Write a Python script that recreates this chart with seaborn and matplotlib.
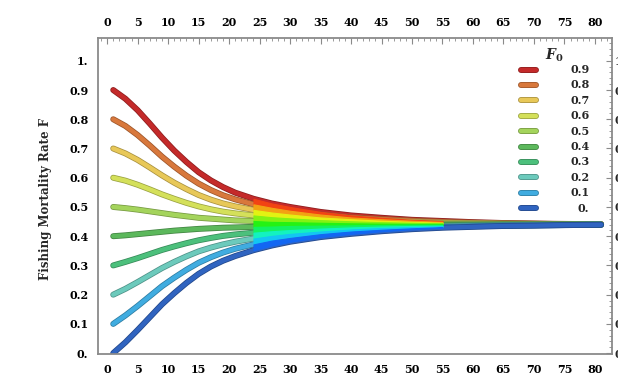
import colorsys

import matplotlib
matplotlib.use("Agg")
import matplotlib.pyplot as plt
import numpy as np
import pandas as pd
import seaborn as sns
from matplotlib import patheffects as pe
from matplotlib.ticker import MultipleLocator

# time axis (years) at which the trajectories are sampled
t = [1, 3, 5, 7, 9, 11, 13, 15, 17, 19, 21, 24, 27, 30, 35, 40, 45, 50, 55, 60, 65, 70, 75, 81]

# fishing mortality trajectories for each starting value F0
f_09 = [0.900, 0.870, 0.831, 0.785, 0.737, 0.693, 0.654, 0.619, 0.591, 0.568, 0.549, 0.528,
        0.512, 0.500, 0.483, 0.471, 0.463, 0.456, 0.452, 0.448, 0.445, 0.443, 0.442, 0.441]
f_08 = [0.800, 0.777, 0.746, 0.710, 0.672, 0.638, 0.607, 0.580, 0.558, 0.540, 0.526, 0.509,
        0.497, 0.487, 0.474, 0.464, 0.458, 0.453, 0.449, 0.446, 0.444, 0.443, 0.441, 0.441]
f_07 = [0.700, 0.683, 0.661, 0.635, 0.608, 0.583, 0.561, 0.541, 0.525, 0.512, 0.502, 0.490,
        0.481, 0.474, 0.464, 0.458, 0.453, 0.449, 0.446, 0.444, 0.443, 0.442, 0.441, 0.440]
f_06 = [0.600, 0.590, 0.576, 0.560, 0.543, 0.528, 0.514, 0.502, 0.492, 0.484, 0.478, 0.471,
        0.465, 0.461, 0.455, 0.451, 0.448, 0.446, 0.444, 0.443, 0.442, 0.441, 0.441, 0.440]
f_05 = [0.500, 0.496, 0.491, 0.485, 0.479, 0.473, 0.468, 0.463, 0.460, 0.457, 0.454, 0.452,
        0.449, 0.448, 0.446, 0.444, 0.443, 0.442, 0.442, 0.441, 0.441, 0.440, 0.440, 0.440]
f_04 = [0.400, 0.403, 0.407, 0.411, 0.415, 0.419, 0.422, 0.425, 0.427, 0.429, 0.430, 0.432,
        0.433, 0.435, 0.436, 0.437, 0.438, 0.439, 0.439, 0.439, 0.440, 0.440, 0.440, 0.440]
f_03 = [0.300, 0.312, 0.325, 0.339, 0.353, 0.365, 0.376, 0.386, 0.394, 0.401, 0.406, 0.412,
        0.417, 0.421, 0.426, 0.430, 0.433, 0.435, 0.436, 0.437, 0.438, 0.439, 0.439, 0.440]
f_02 = [0.200, 0.220, 0.243, 0.267, 0.291, 0.312, 0.331, 0.348, 0.361, 0.372, 0.381, 0.392,
        0.401, 0.408, 0.416, 0.423, 0.428, 0.431, 0.434, 0.436, 0.437, 0.438, 0.439, 0.440]
f_01 = [0.100, 0.129, 0.161, 0.195, 0.229, 0.258, 0.285, 0.309, 0.328, 0.344, 0.357, 0.372,
        0.385, 0.394, 0.407, 0.416, 0.422, 0.427, 0.431, 0.434, 0.436, 0.437, 0.438, 0.439]
f_00 = [0.000, 0.037, 0.079, 0.123, 0.167, 0.205, 0.240, 0.271, 0.296, 0.316, 0.332, 0.352,
        0.368, 0.381, 0.397, 0.408, 0.417, 0.424, 0.429, 0.432, 0.435, 0.436, 0.438, 0.439]

f0_labels = ["0.9", "0.8", "0.7", "0.6", "0.5", "0.4", "0.3", "0.2", "0.1", "0."]
f0_values = [0.9, 0.8, 0.7, 0.6, 0.5, 0.4, 0.3, 0.2, 0.1, 0.0]
series = [f_09, f_08, f_07, f_06, f_05, f_04, f_03, f_02, f_01, f_00]
line_colors = ["#c42a2a", "#d8783c", "#e8c858", "#d4e05a", "#a4d45c",
               "#5cb85c", "#4cc07c", "#6ccabc", "#40ace0", "#3064c0"]

x_ticks = list(range(0, 81, 5))
y_ticks = [0.0, 0.1, 0.2, 0.3, 0.4, 0.5, 0.6, 0.7, 0.8, 0.9, 1.0]
y_tick_labels = ["0.", "0.1", "0.2", "0.3", "0.4", "0.5", "0.6", "0.7", "0.8", "0.9", "1."]

sns.set_theme(style="white")
plt.rcParams["font.family"] = ["DejaVu Serif"]
plt.rcParams["font.weight"] = "bold"
plt.rcParams["mathtext.fontset"] = "dejavuserif"

W, H = 618, 376
fig = plt.figure(figsize=(W / 100, H / 100), dpi=100)
fig.patch.set_facecolor("white")
ax = fig.add_axes([98 / W, 1 - 354 / H, 514 / W, 316 / H])

df = pd.concat(
    [pd.DataFrame({"t": t, "F": s, "F0": lab}) for s, lab in zip(series, f0_labels)],
    ignore_index=True,
)
palette = dict(zip(f0_labels, line_colors))
sns.lineplot(data=df, x="t", y="F", hue="F0", hue_order=f0_labels, palette=palette,
             estimator=None, sort=False, lw=3.2, legend=False, ax=ax, zorder=2)


def darker(c, k=0.72):
    r, g, b = matplotlib.colors.to_rgb(c)
    return (r * k, g * k, b * k)


for line in ax.lines:
    line.set_solid_capstyle("round")
    line.set_solid_joinstyle("round")
    line.set_path_effects([pe.Stroke(linewidth=4.3, foreground=darker(line.get_color()),
                                     joinstyle="round"),
                           pe.Normal()])

# dense rainbow band where the trajectories converge
t_arr = np.array(t)
band = (t_arr >= 24) & (t_arr <= 55)
for i in range(len(series) - 1):
    upper = np.array(series[i])[band]
    lower = np.array(series[i + 1])[band]
    mid = (f0_values[i] + f0_values[i + 1]) / 2
    hue = 0.64 * (1 - mid / 0.9)
    col = colorsys.hsv_to_rgb(hue, 0.92, 0.95)
    ax.fill_between(t_arr[band], lower, upper, color=col, lw=0.8, edgecolor=col, zorder=3)

ax.set_xlim(-1.5, 82.8)
ax.set_ylim(-0.003, 1.078)
ax.set_xlabel("")
ax.set_ylabel("Fishing Mortality Rate F", fontsize=8.5, fontweight="bold")
ax.yaxis.set_label_coords(-0.0895, 0.49)

ax.set_xticks(x_ticks)
ax.set_xticklabels([str(v) for v in x_ticks])
ax.set_yticks(y_ticks)
ax.set_yticklabels(y_tick_labels)
ax.xaxis.set_minor_locator(MultipleLocator(1))
ax.yaxis.set_minor_locator(MultipleLocator(0.02))
ax.tick_params(axis="both", which="both", direction="in", top=True, right=True,
               labeltop=True, labelright=False, labelsize=8, pad=7,
               color="#8a8a8a", labelcolor="black")
ax.tick_params(which="major", length=4, width=0.8)
ax.tick_params(which="minor", length=2, width=0.6)
for sp in ax.spines.values():
    sp.set_color("#8a8a8a")
    sp.set_linewidth(1.3)

# right-hand frame labels sit close to the frame
ax_r = ax.secondary_yaxis("right")
ax_r.set_yticks(y_ticks)
ax_r.set_yticklabels(y_tick_labels)
ax_r.tick_params(direction="in", length=0, pad=2, labelsize=8)
ax_r.spines["right"].set_visible(False)

# legend keyed by the starting mortality F0
ax.text(0.887, 0.946, "$F_0$", transform=ax.transAxes, ha="center", va="center",
        fontsize=10)
for i, (lab, col) in enumerate(zip(f0_labels, line_colors)):
    yy = (354 - (69.5 + i * 15.4)) / 316
    ln, = ax.plot([0.823, 0.853], [yy, yy], transform=ax.transAxes, color=col, lw=3.2,
                  solid_capstyle="round", clip_on=False, zorder=5)
    ln.set_path_effects([pe.Stroke(linewidth=4.3, foreground=darker(col)), pe.Normal()])
    ax.text(0.956, yy, lab, transform=ax.transAxes, ha="right", va="center", fontsize=8)

fig.savefig("out.png", dpi=100)
